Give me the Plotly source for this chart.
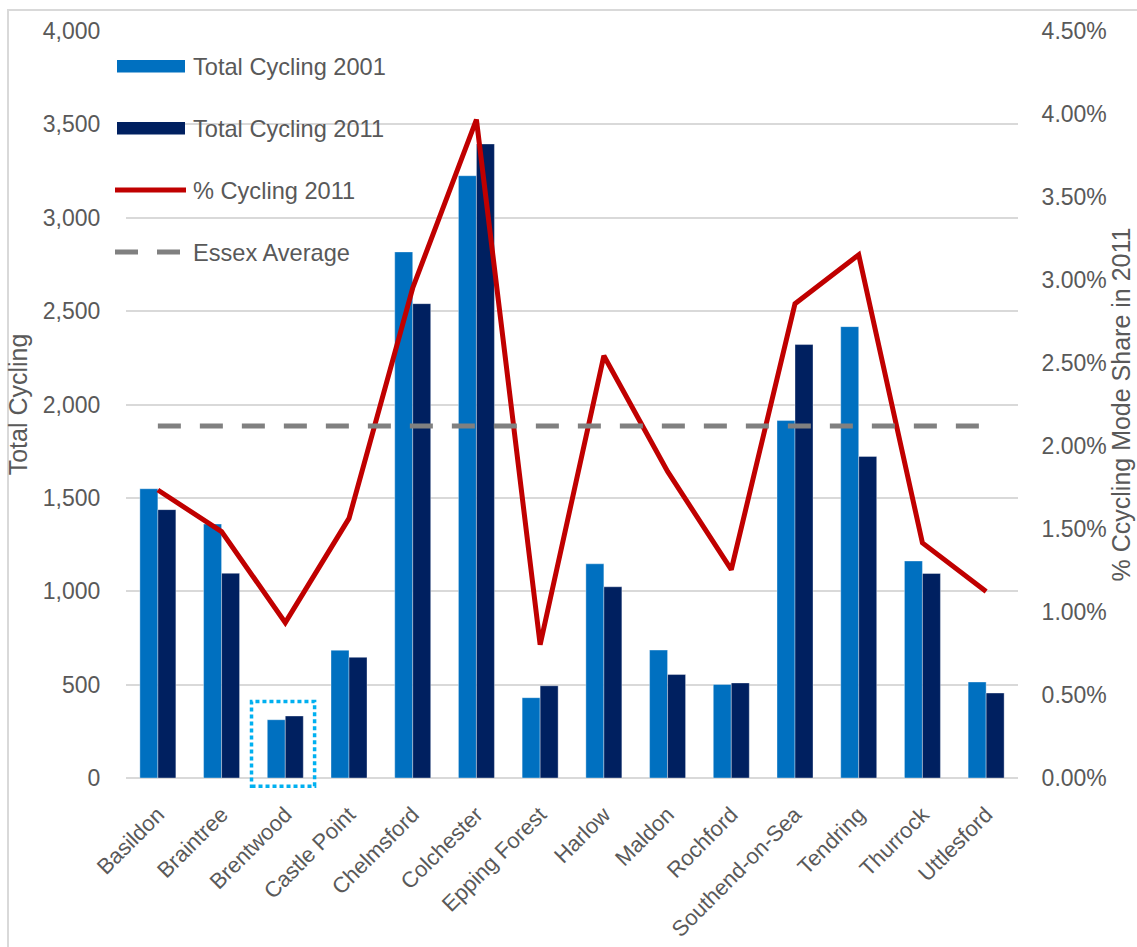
import plotly.graph_objects as go

# ---------------- data ----------------
categories = ["Basildon", "Braintree", "Brentwood", "Castle Point", "Chelmsford",
              "Colchester", "Epping Forest", "Harlow", "Maldon", "Rochford",
              "Southend-on-Sea", "Tendring", "Thurrock", "Uttlesford"]
cycling_2001 = [1549, 1360, 312, 684, 2817, 3225, 430, 1147, 685, 501, 1914, 2417, 1162, 514]
cycling_2011 = [1437, 1096, 332, 646, 2540, 3395, 494, 1024, 554, 509, 2321, 1722, 1095, 455]
pct_cycling_2011 = [0.01735, 0.01484, 0.00936, 0.01564, 0.02952, 0.03966, 0.00803,
                    0.02544, 0.01847, 0.01255, 0.02857, 0.03152, 0.01416, 0.01124]
essex_average = 0.0212
series_names = ["Total Cycling 2001", "Total Cycling 2011", "% Cycling 2011", "Essex Average"]
highlight_category = "Brentwood"

# ---------------- style ----------------
C2001 = "#0070C0"
C2011 = "#002060"
CRED = "#C00000"
CGRAY = "#808080"
TXT = "#595959"
GRID = "#D9D9D9"
FONT = "Liberation Sans, Arial, sans-serif"

W, H = 1137, 947
L, R, T, B = 126, 119, 31, 169
PW, PH = W - L - R, H - T - B


def px_x(px):
    return (px - L) / PW


def px_y(py):
    return (H - B - py) / PH


fig = go.Figure()
fig.add_trace(go.Bar(x=categories, y=cycling_2001, name=series_names[0],
                     marker=dict(color=C2001, line=dict(color="rgba(255,255,255,0.45)", width=0.8)),
                     showlegend=False))
fig.add_trace(go.Bar(x=categories, y=cycling_2011, name=series_names[1],
                     marker=dict(color=C2011, line=dict(color="rgba(255,255,255,0.45)", width=0.8)),
                     showlegend=False))
fig.add_trace(go.Scatter(x=categories, y=pct_cycling_2011, name=series_names[2], yaxis="y2",
                         mode="lines", line=dict(color=CRED, width=5), showlegend=False))
fig.add_trace(go.Scatter(x=categories, y=[essex_average] * len(categories), name=series_names[3],
                         yaxis="y2", mode="lines",
                         line=dict(color=CGRAY, width=5, dash="23px,19px"), showlegend=False))

shapes = []
annotations = []

# outer chart border
shapes.append(dict(type="rect", xref="paper", yref="paper",
                   x0=px_x(8), x1=px_x(1145), y0=px_y(10), y1=px_y(955),
                   line=dict(color=GRID, width=2), fillcolor="rgba(0,0,0,0)", layer="below"))

# highlight box around Brentwood
idx = categories.index(highlight_category)
n = len(categories)
shapes.append(dict(type="rect", xref="x domain", yref="y domain",
                   x0=(idx - 0.03) / n, x1=(idx + 0.96) / n,
                   y0=-0.011, y1=0.1025,
                   line=dict(color="#00B0F0", width=3.5, dash="4px,3px"),
                   fillcolor="rgba(0,0,0,0)"))

# manual legend
leg_y = [66, 128, 190, 252]
shapes.append(dict(type="rect", xref="paper", yref="paper",
                   x0=px_x(117), x1=px_x(185), y0=px_y(60), y1=px_y(72.5),
                   fillcolor=C2001, line=dict(width=0)))
shapes.append(dict(type="rect", xref="paper", yref="paper",
                   x0=px_x(117), x1=px_x(185), y0=px_y(122), y1=px_y(134.5),
                   fillcolor=C2011, line=dict(width=0)))
shapes.append(dict(type="line", xref="paper", yref="paper",
                   x0=px_x(115), x1=px_x(186), y0=px_y(190), y1=px_y(190),
                   line=dict(color=CRED, width=5)))
shapes.append(dict(type="line", xref="paper", yref="paper",
                   x0=px_x(115), x1=px_x(180), y0=px_y(252), y1=px_y(252),
                   line=dict(color=CGRAY, width=5, dash="23px,19px")))
for name, yy in zip(series_names, leg_y):
    annotations.append(dict(text=name, xref="paper", yref="paper",
                            x=px_x(191), y=px_y(yy + 1), xanchor="left", yanchor="middle",
                            showarrow=False, font=dict(family=FONT, size=23.6, color=TXT)))

fig.update_layout(
    width=W, height=H, autosize=False,
    margin=dict(l=L, r=R, t=T, b=B, autoexpand=False),
    paper_bgcolor="white", plot_bgcolor="white",
    barmode="group", bargap=0.435, bargroupgap=0,
    font=dict(family=FONT, size=23, color=TXT),
    showlegend=False,
    xaxis=dict(type="category", tickangle=-45, ticks="outside", ticklen=14,
               tickcolor="rgba(0,0,0,0)", showgrid=False, showline=False, automargin=False,
               tickfont=dict(family=FONT, size=22, color=TXT), range=[-0.5, n - 0.5]),
    yaxis=dict(range=[0, 4000], dtick=500, tickformat=",d", showgrid=True,
               gridcolor=GRID, gridwidth=1.5, zeroline=True, zerolinecolor=GRID,
               zerolinewidth=1.5, showline=False, ticks="outside", ticklen=20,
               tickcolor="rgba(0,0,0,0)", automargin=False,
               tickfont=dict(family=FONT, size=23, color=TXT),
               title=dict(text="Total Cycling", font=dict(family=FONT, size=25, color=TXT),
                          standoff=8)),
    yaxis2=dict(range=[0, 0.045], dtick=0.005, tickformat=".2%", overlaying="y",
                side="right", showgrid=False, zeroline=False, showline=False,
                ticks="outside", ticklen=18, tickcolor="rgba(0,0,0,0)", automargin=False,
                tickfont=dict(family=FONT, size=23, color=TXT),
                title=dict(text="% Ccycling Mode Share in 2011",
                           font=dict(family=FONT, size=25, color=TXT), standoff=4)),
    shapes=shapes,
    annotations=annotations,
)

fig.write_html("out.html")
